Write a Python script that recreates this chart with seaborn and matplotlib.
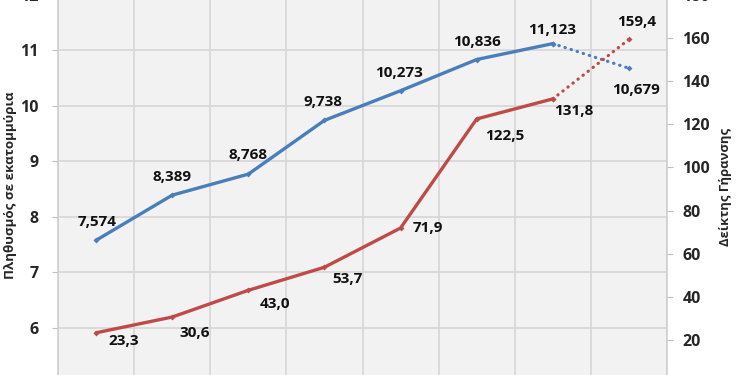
import matplotlib
matplotlib.use("Agg")
import matplotlib.pyplot as plt
import seaborn as sns
import pandas as pd
import numpy as np

# Data
positions = [0, 1, 2, 3, 4, 5, 6, 7]
population = [7.574, 8.389, 8.768, 9.738, 10.273, 10.836, 11.123, 10.679]
aging_index = [23.3, 30.6, 43.0, 53.7, 71.9, 122.5, 131.8, 159.4]
pop_labels = ["7,574", "8,389", "8,768", "9,738", "10,273", "10,836", "11,123", "10,679"]
aging_labels = ["23,3", "30,6", "43,0", "53,7", "71,9", "122,5", "131,8", "159,4"]
left_ticks = [5, 6, 7, 8, 9, 10, 11, 12]
right_ticks = [0, 20, 40, 60, 80, 100, 120, 140, 160, 180]
ylabel_left = "Πληθυσμός σε εκατομμύρια"
ylabel_right = "Δείκτης Γήρανσης"

sns.set_style("white")
plt.rcParams["font.family"] = ["Open Sans", "DejaVu Sans"]

BLUE = "#4A7EBB"
RED = "#BE4B48"
GRID = "#D6D6D6"

df = pd.DataFrame({"x": positions, "pop": population, "age": aging_index})
solid = df.iloc[:7]
dotted = df.iloc[6:]

fig = plt.figure(figsize=(7.5, 3.75), dpi=100)
W, H = 750, 375
x0, x1 = 58, 667
ytop, ybot = -5, 383
ax = fig.add_axes([x0 / W, (H - ybot) / H, (x1 - x0) / W, (ybot - ytop) / H])
ax.set_facecolor("#F2F2F2")
ax2 = ax.twinx()

dot_style = dict(lw=2.3, linestyle=(0, (0.1, 1.9)), dash_capstyle="round",
                 marker="D", markersize=3, markeredgewidth=0)
sns.lineplot(data=solid, x="x", y="pop", ax=ax, color=BLUE, lw=2.4,
             marker="D", markersize=3, markeredgewidth=0)
sns.lineplot(data=dotted, x="x", y="pop", ax=ax, color=BLUE, **dot_style)
sns.lineplot(data=solid, x="x", y="age", ax=ax2, color=RED, lw=2.4,
             marker="D", markersize=3, markeredgewidth=0)
sns.lineplot(data=dotted, x="x", y="age", ax=ax2, color=RED, **dot_style)

ax.set_xlim(-0.5, 7.5)
ax.set_ylim(5, 12)
ax2.set_ylim(0, 180)
ax.set_yticks(left_ticks)
ax2.set_yticks(right_ticks)
ax.set_xticks(np.arange(-0.5, 8.0, 1.0))
ax.set_xticklabels([])
ax.tick_params(axis="x", length=0)
ax.grid(True, color=GRID, lw=1.2)
ax.set_axisbelow(True)

for a in (ax, ax2):
    for s in a.spines.values():
        s.set_visible(False)
ax.spines["left"].set_visible(True)
ax.spines["left"].set_color("#CFCFCF")
ax.spines["left"].set_linewidth(1.2)
ax2.spines["right"].set_visible(True)
ax2.spines["right"].set_color("#CFCFCF")
ax2.spines["right"].set_linewidth(1.2)

ax.tick_params(axis="y", length=4, color="#BFBFBF", pad=10, labelsize=11.5)
ax2.tick_params(axis="y", length=4, color="#BFBFBF", pad=7, labelsize=11.5)
for lab in ax.get_yticklabels() + ax2.get_yticklabels():
    lab.set_fontweight("bold")

ax.set_xlabel("")
ax.set_ylabel("")
ax2.set_ylabel("")
fig.text(10.5 / W, 1 - 185 / H, ylabel_left, fontsize=9.6, fontweight="bold",
         rotation=90, ha="center", va="center")
fig.text(725 / W, 1 - 187 / H, ylabel_right, fontsize=9.4, fontweight="bold",
         rotation=90, ha="center", va="center")

lab_font = dict(fontsize=11, fontweight="bold", color="#111111", ha="center", va="center")
pop_off = [(1, 18), (0, 18), (0, 19), (-1, 18), (-2, 18), (0, 18), (-1, 14), (7, -22)]
age_off = [(28, -8), (22, -16), (27, -14), (23, -12), (27, 0), (28, -17), (21, -12), (8, 17)]
for xv, yv, t, (dx, dy) in zip(positions, population, pop_labels, pop_off):
    ax.annotate(t, (xv, yv), xytext=(dx * 0.72, dy * 0.72), textcoords="offset points", **lab_font)
for xv, yv, t, (dx, dy) in zip(positions, aging_index, aging_labels, age_off):
    ax2.annotate(t, (xv, yv), xytext=(dx * 0.72, dy * 0.72), textcoords="offset points", **lab_font)

fig.savefig("out.png", dpi=100, facecolor="white")
